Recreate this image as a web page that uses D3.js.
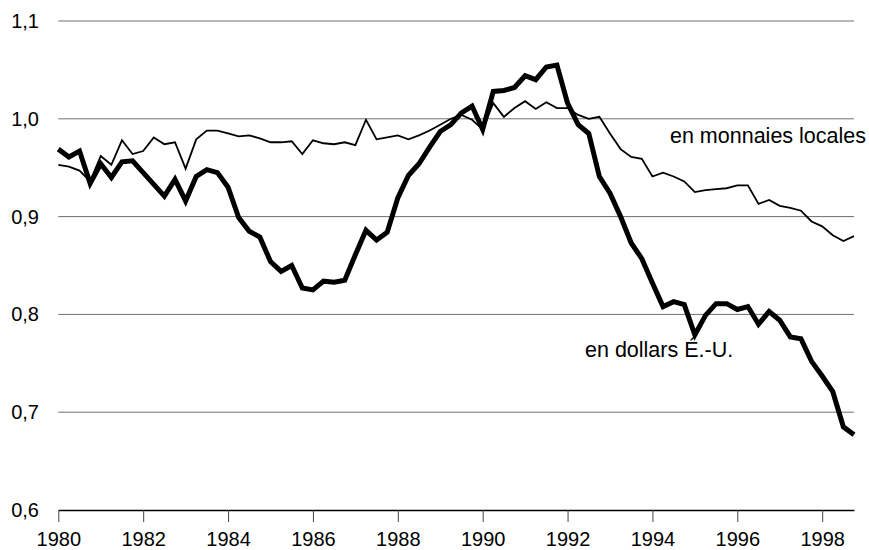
<!DOCTYPE html>
<html lang="fr">
<head>
    <meta charset="UTF-8">
    <title>Indice en monnaies locales et en dollars</title>
    <script src="https://d3js.org/d3.v7.min.js"></script>
    <style>
        body {
            margin: 0;
            background: #fff;
            font-family: "Liberation Sans", Arial, sans-serif;
        }
        .tick-label {
            font-size: 20px;
            fill: #000;
        }
        .series-label {
            font-size: 21.5px;
            fill: #000;
        }
    </style>
</head>
<body>
    <div id="chart"></div>
    <script>
        // Quarterly series, 1980 Q1 to 1998 Q4
        const startYear = 1980;
        const localCurrency = [
            0.953, 0.951, 0.947, 0.936, 0.962, 0.953, 0.978, 0.964,
            0.967, 0.981, 0.974, 0.976, 0.949, 0.979, 0.988, 0.988,
            0.985, 0.982, 0.983, 0.980, 0.976, 0.976, 0.977, 0.964,
            0.978, 0.975, 0.974, 0.976, 0.973, 0.999, 0.979, 0.981,
            0.983, 0.979, 0.983, 0.988, 0.994, 1.000, 1.004, 0.999,
            0.989, 1.016, 1.002, 1.011, 1.018, 1.010, 1.017, 1.011,
            1.011, 1.004, 1.000, 1.002, 0.985, 0.969, 0.961, 0.959,
            0.941, 0.945, 0.941, 0.936, 0.925, 0.927, 0.928, 0.929,
            0.932, 0.932, 0.913, 0.917, 0.911, 0.909, 0.906, 0.895,
            0.890, 0.881, 0.875, 0.880
        ];
        const usDollars = [
            0.969, 0.961, 0.967, 0.934, 0.954, 0.940, 0.956, 0.957,
            0.945, 0.933, 0.921, 0.938, 0.916, 0.941, 0.948, 0.945,
            0.930, 0.899, 0.885, 0.879, 0.854, 0.844, 0.850, 0.827,
            0.825, 0.834, 0.833, 0.835, 0.861, 0.886, 0.876, 0.884,
            0.919, 0.942, 0.954, 0.971, 0.987, 0.994, 1.006, 1.013,
            0.989, 1.028, 1.029, 1.032, 1.044, 1.040, 1.053, 1.055,
            1.016, 0.994, 0.985, 0.941, 0.924, 0.900, 0.873, 0.857,
            0.832, 0.808, 0.813, 0.810, 0.779, 0.799, 0.811, 0.811,
            0.805, 0.808, 0.790, 0.803, 0.794, 0.777, 0.775, 0.752,
            0.737, 0.721, 0.685, 0.677
        ];
        const yTicks = [0.6, 0.7, 0.8, 0.9, 1.0, 1.1];
        const xTicks = [1980, 1982, 1984, 1986, 1988, 1990, 1992, 1994, 1996, 1998];
        const seriesLabels = ["en monnaies locales", "en dollars É.-U."];

        const width = 869;
        const height = 550;

        const svg = d3.select("#chart")
            .append("svg")
            .attr("width", width)
            .attr("height", height);

        const x = d3.scaleLinear()
            .domain([1980, 1998.75])
            .range([58.3, 854]);

        const y = d3.scaleLinear()
            .domain([0.6, 1.1])
            .range([510, 21]);

        const fmt = d => d3.format(".1f")(d).replace(".", ",");

        // Horizontal grid lines (the 0,6 one is the axis itself)
        svg.append("g")
            .selectAll("line")
            .data(yTicks.filter(d => d > 0.6))
            .enter()
            .append("line")
            .attr("x1", x(1980))
            .attr("x2", x(1998.75))
            .attr("y1", d => y(d))
            .attr("y2", d => y(d))
            .attr("stroke", "#6e6e6e")
            .attr("stroke-width", 1);

        // Y labels
        svg.append("g")
            .selectAll("text")
            .data(yTicks)
            .enter()
            .append("text")
            .attr("class", "tick-label")
            .attr("x", 39)
            .attr("y", d => y(d))
            .attr("dy", "0.35em")
            .attr("text-anchor", "end")
            .text(fmt);

        // X axis
        const xAxis = d3.axisBottom(x)
            .tickValues(xTicks)
            .tickSize(12)
            .tickSizeOuter(0)
            .tickFormat(d3.format("d"));

        const axisG = svg.append("g")
            .attr("transform", `translate(0,${y(0.6)})`)
            .call(xAxis);

        axisG.select(".domain")
            .attr("stroke", "#000")
            .attr("stroke-width", 1.3);
        axisG.selectAll(".tick line")
            .attr("stroke", "#444");
        axisG.selectAll(".tick text")
            .attr("class", "tick-label")
            .attr("font-family", null)
            .attr("font-size", null)
            .attr("y", 0)
            .attr("dy", 35.5);

        // Lines
        const line = d3.line()
            .x((d, i) => x(startYear + i / 4))
            .y(d => y(d));

        svg.append("path")
            .datum(usDollars)
            .attr("fill", "none")
            .attr("stroke", "#000")
            .attr("stroke-width", 5)
            .attr("stroke-linejoin", "miter")
            .attr("d", line);

        svg.append("path")
            .datum(localCurrency)
            .attr("fill", "none")
            .attr("stroke", "#000")
            .attr("stroke-width", 1.8)
            .attr("d", line);

        // Series labels
        svg.append("text")
            .attr("class", "series-label")
            .attr("x", 866)
            .attr("y", 143)
            .attr("text-anchor", "end")
            .text(seriesLabels[0]);

        svg.append("text")
            .attr("class", "series-label")
            .attr("x", 585)
            .attr("y", 357)
            .text(seriesLabels[1]);
    </script>
</body>
</html>
